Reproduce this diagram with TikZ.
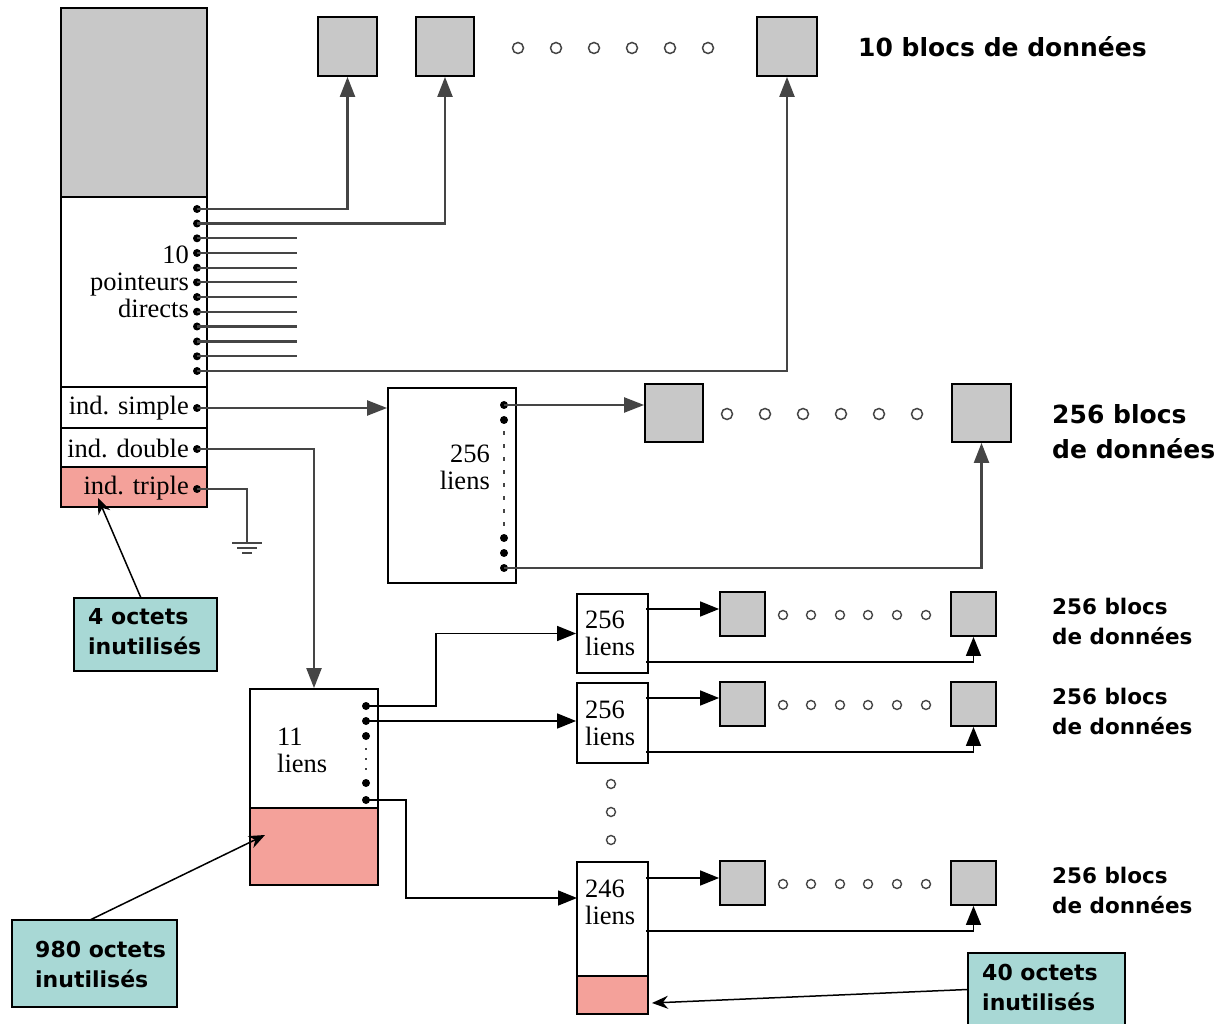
\documentclass[tikz,border=0pt]{standalone}
\usepackage{fontspec}
\setmainfont{Liberation Serif}
\newfontfamily\lblfont{DejaVu Sans}
\usetikzlibrary{arrows.meta}
\definecolor{blkgray}{HTML}{C8C8C8}
\definecolor{pinkfill}{HTML}{F4A19A}
\definecolor{noteteal}{HTML}{A8D8D5}
\definecolor{linegray}{HTML}{454545}
\tikzset{
  box/.style={draw=black, line width=1.8pt, inner sep=0pt},
  blk/.style={box, fill=blkgray, minimum width=59pt, minimum height=59pt},
  sblk/.style={box, fill=blkgray, minimum width=45pt, minimum height=44pt},
  conn/.style={draw=linegray, line width=2.2pt},
  arr/.style={conn, -{Triangle[length=20pt,width=15pt]}},
  sconn/.style={draw=black, line width=1.5pt},
  sarr/.style={sconn, -{Triangle[length=19pt,width=15pt]}},
  narr/.style={draw=black, line width=1.5pt, -{Stealth[length=16pt,width=13pt]}},
  hole/.style={circle, draw=linegray, line width=1.5pt, minimum size=11pt, inner sep=0pt},
  shole/.style={circle, draw=linegray, line width=1.4pt, minimum size=9pt, inner sep=0pt},
  pdot/.style={circle, fill=black, minimum size=8pt, inner sep=0pt},
  serif/.style={font=\fontsize{26.5}{27}\selectfont, inner sep=0pt},
  lbl/.style={font=\lblfont\bfseries\fontsize{25}{35}\selectfont, inner sep=0pt, align=left, anchor=west},
  slbl/.style={font=\lblfont\bfseries\fontsize{21.5}{30}\selectfont, inner sep=0pt, align=left, anchor=west},
  note/.style={draw=black, line width=1.5pt, fill=noteteal, inner sep=0pt},
  notetext/.style={font=\lblfont\bfseries\fontsize{22}{30}\selectfont, align=left, anchor=west, inner sep=0pt}
}
\begin{document}
\begin{tikzpicture}[x=1pt,y=-1pt]
\useasboundingbox (0,0) rectangle (1219,1024);

% ---------- inode ----------
\node[box, fill=blkgray, minimum width=146pt, minimum height=189pt] (itop) at (134,102.5) {};
\node[box, fill=white, minimum width=146pt, minimum height=190pt] (idir) at (134,292) {};
\node[box, fill=white, minimum width=146pt, minimum height=41pt] (isim) at (134,407.5) {};
\node[box, fill=white, minimum width=146pt, minimum height=39pt] (idbl) at (134,447.5) {};
\node[box, fill=pinkfill, minimum width=146pt, minimum height=40pt] (itri) at (134,487) {};

\node[serif, anchor=east, align=right] (tdir) at (189,282) {10\\pointeurs\\directs};
\node[serif, anchor=east] (tsim) at (189,408) {ind. simple};
\node[serif, anchor=east] (tdbl) at (189,448) {ind. double};
\node[serif, anchor=east] (ttri) at (189,488) {ind. triple};

% direct pointer dots
\foreach \i/\y in {1/209,2/223.5,3/238.3,4/253,5/267.7,6/282.3,7/297,8/311.7,9/326.5,10/341.5,11/356.3,12/371}
  \node[pdot] (p\i) at (197,\y) {};
\node[pdot] (ps) at (197,408) {};
\node[pdot] (pd) at (197,449) {};
\node[pdot] (pt) at (197,489) {};

% ---------- top data blocks ----------
\node[blk] (b1) at (347.5,46.5) {};
\node[blk, minimum width=58pt] (b2) at (445,46.5) {};
\node[blk, minimum width=60pt] (b3) at (787,46.5) {};
\foreach \x [count=\k] in {518,556,594,632,670,708}
  \node[hole] (h\k) at (\x,48) {};
\node[lbl] (l10) at (858,47) {10 blocs de données};

\draw[arr] (p1.center) -| (b1.south);
\draw[arr] (p2.center) -| (b2.south);
\foreach \i in {3,...,11}
  \draw[conn] (p\i.center) -- ++(100,0);
\draw[arr] (p12.center) -| (b3.south);

% ---------- simple indirect ----------
\node[box, fill=white, minimum width=128pt, minimum height=195pt] (A) at (452,485.5) {};
\node[serif, anchor=east, align=right] (tA) at (490,467) {256\\liens};
\foreach \i/\y in {1/405,2/420,4/538,5/553,6/568}
  \node[pdot] (a\i) at (504,\y) {};
\coordinate (adash1) at (504,431);
\coordinate (adash2) at (504,528);
\draw[linegray, line width=1.6pt, dash pattern=on 4pt off 9pt] (adash1) -- (adash2);

\node[blk, minimum width=58pt, minimum height=58pt] (b4) at (674,413) {};
\node[blk, minimum width=59pt, minimum height=58pt] (b5) at (981.5,413) {};
\foreach \x [count=\k] in {727,765,803,841,879,917}
  \node[hole] (m\k) at (\x,414) {};
\node[lbl] (l256) at (1052,431.5) {256 blocs\\de données};

\draw[arr] (ps.center) -- (ps -| A.west);
\draw[arr] (a1.center) -- (a1 -| b4.west);
\draw[arr] (a6.center) -| (b5.south);

% ---------- double indirect ----------
\node[box, fill=white, minimum width=128pt, minimum height=196pt] (B) at (314,787) {};
\node[box, fill=pinkfill, minimum width=128pt, minimum height=77pt] (Bp) at (314,846.5) {};
\node[serif, anchor=west, align=left] (tB) at (277,750.5) {11\\liens};
\foreach \i/\y in {1/706,2/721,3/736,5/783,6/800}
  \node[pdot] (q\i) at (366,\y) {};
\coordinate (qdot1) at (366,748);
\coordinate (qdot2) at (366,770);
\draw[linegray, line width=1.8pt, dash pattern=on 1.8pt off 8.2pt] (qdot1) -- (qdot2);

\draw[arr] (pd.center) -| (B.north);

% ground
\coordinate (gnd) at (247,543);
\draw[conn] (pt.center) -| (gnd);
\draw[conn] (232,543) -- (262,543);
\draw[conn] (237,548) -- (257,548);
\draw[conn] (242,553) -- (252,553);

% second-level boxes
\node[box, fill=white, minimum width=71pt, minimum height=79pt] (C1) at (612.5,633.5) {};
\node[box, fill=white, minimum width=71pt, minimum height=80pt] (C2) at (612.5,723) {};
\node[box, fill=white, minimum width=71pt, minimum height=152pt] (C3) at (612.5,938) {};
\node[box, fill=pinkfill, minimum width=71pt, minimum height=38pt] (C3p) at (612.5,995) {};
\node[serif, anchor=west, align=left] (tC1) at (585,633.5) {256\\liens};
\node[serif, anchor=west, align=left] (tC2) at (585,723) {256\\liens};
\node[serif, anchor=west, align=left] (tC3) at (585,902.5) {246\\liens};

\coordinate (c3in) at (577,898);
\draw[sarr] (q1.center) -- ++(70,0) |- (C1.west);
\draw[sarr] (q2.center) -- (q2 -| C2.west);
\draw[sarr] (q6.center) -- ++(40,0) |- (c3in);

\foreach \y [count=\k] in {784,812,840}
  \node[shole] (v\k) at (611,\y) {};

% rows of small blocks
\foreach \r/\yb/\yo/\yu/\lab in {1/614/609/662/621, 2/704/698/752/711, 3/883/878/931/890}{
  \node[sblk] (s\r a) at (742.5,\yb) {};
  \node[sblk] (s\r b) at (973.5,\yb) {};
  \foreach \x [count=\k] in {783,811,840,868,897,926}
    \node[shole] (o\r\k) at (\x,\yb+1) {};
  \coordinate (co\r) at (646,\yo);
  \coordinate (cu\r) at (646,\yu);
  \draw[sarr] (co\r) -- (co\r -| s\r a.west);
  \draw[sarr] (cu\r) -| (s\r b.south);
  \node[slbl] (lab\r) at (1052,\lab) {256 blocs\\de données};
}

% ---------- notes ----------
\node[note, minimum width=143pt, minimum height=73pt] (N1) at (145.5,634.5) {};
\node[notetext] (N1t) at (88,632) {4 octets\\inutilisés};
\node[note, minimum width=165pt, minimum height=87pt] (N2) at (94.5,963.5) {};
\node[notetext] (N2t) at (35,964) {980 octets\\inutilisés};
\node[note, minimum width=157pt, minimum height=73pt] (N3) at (1046.5,989.5) {};
\node[notetext] (N3t) at (982,987) {40 octets\\inutilisés};
\coordinate (t1) at (98,498);
\coordinate (t2) at (265,835);
\coordinate (t3) at (652,1003);
\coordinate (n1s) at (141,598);
\coordinate (n2s) at (90,920);
\draw[narr] (n1s) -- (t1);
\draw[narr] (n2s) -- (t2);
\draw[narr] (N3.west) -- (t3);
\end{tikzpicture}
\end{document}
